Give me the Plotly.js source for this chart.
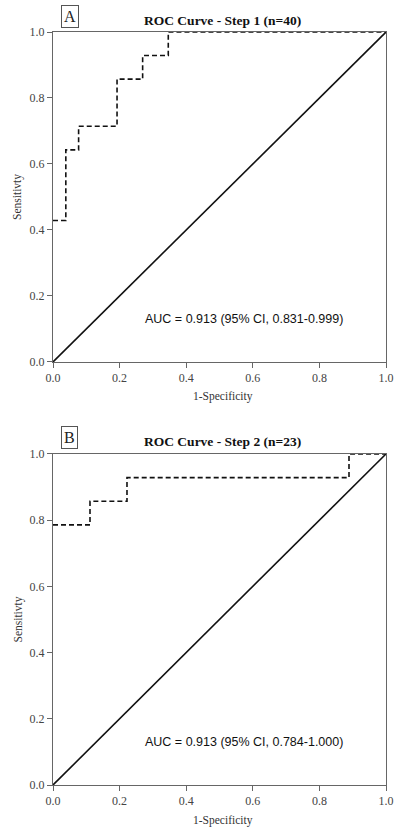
<!DOCTYPE html>
<html>
<head>
<meta charset="utf-8">
<script src="https://cdn.plot.ly/plotly-3.0.1.min.js"></script>
<style>html,body{margin:0;padding:0;background:#fff;}#chart{width:394px;height:833px;}</style>
</head>
<body>
<div id="chart"></div>
<script>
// Panel A: ROC Curve - Step 1 (n=40)
var rocA_fpr = [0, 0.0385, 0.0385, 0.0769, 0.0769, 0.1923, 0.1923, 0.2692, 0.2692, 0.3462, 0.3462, 1.0];
var rocA_tpr = [0.4286, 0.4286, 0.6429, 0.6429, 0.7143, 0.7143, 0.8571, 0.8571, 0.9286, 0.9286, 1.0, 1.0];
// Panel B: ROC Curve - Step 2 (n=23)
var rocB_fpr = [0, 0.1111, 0.1111, 0.2222, 0.2222, 0.8889, 0.8889, 1.0];
var rocB_tpr = [0.7857, 0.7857, 0.8571, 0.8571, 0.9286, 0.9286, 1.0, 1.0];
// Reference diagonal
var diag = [0, 1];
var tickVals = [0, 0.2, 0.4, 0.6, 0.8, 1.0];
var tickText = ["0.0", "0.2", "0.4", "0.6", "0.8", "1.0"];
var titles = ["ROC Curve - Step 1 (n=40)", "ROC Curve - Step 2 (n=23)"];
var panelLabels = ["A", "B"];
var aucTexts = ["AUC = 0.913 (95% CI, 0.831-0.999)", "AUC = 0.913 (95% CI, 0.784-1.000)"];
var xTitle = "1-Specificity";
var yTitle = "Sensitivty";

var dashStyle = {color: "#111", width: 1.6, dash: "5px,3px"};
var solidStyle = {color: "#111", width: 1.6};

var traces = [
  {x: rocA_fpr, y: rocA_tpr, xaxis: "x", yaxis: "y", mode: "lines", line: dashStyle, hoverinfo: "skip"},
  {x: diag, y: diag, xaxis: "x", yaxis: "y", mode: "lines", line: solidStyle, hoverinfo: "skip"},
  {x: rocB_fpr, y: rocB_tpr, xaxis: "x2", yaxis: "y2", mode: "lines", line: dashStyle, hoverinfo: "skip"},
  {x: diag, y: diag, xaxis: "x2", yaxis: "y2", mode: "lines", line: solidStyle, hoverinfo: "skip"}
];

var serif = "Liberation Serif, Times New Roman, serif";
function axisCommon(extra) {
  var a = {
    range: [0, 1], tickvals: tickVals, ticktext: tickText,
    ticks: "outside", ticklen: 5, tickwidth: 1, tickcolor: "#666",
    showline: true, linecolor: "#666", linewidth: 1, mirror: true,
    showgrid: false, zeroline: false,
    tickfont: {family: serif, size: 12, color: "#444"},
    fixedrange: true
  };
  for (var k in extra) a[k] = extra[k];
  return a;
}

var domA = [0.5618, 1.0];
var domB = [0.0, 0.4396];

var layout = {
  width: 394, height: 833,
  margin: {l: 53, r: 8, t: 32, b: 48},
  paper_bgcolor: "#fff", plot_bgcolor: "#fff",
  showlegend: false,
  xaxis: axisCommon({anchor: "y", domain: [0, 1]}),
  yaxis: axisCommon({anchor: "x", domain: domA}),
  xaxis2: axisCommon({anchor: "y2", domain: [0, 1]}),
  yaxis2: axisCommon({anchor: "x2", domain: domB}),
  annotations: [],
  shapes: []
};

var yrefs = ["y", "y2"];
var xrefs = ["x", "x2"];
for (var i = 0; i < 2; i++) {
  var xd = xrefs[i] + " domain", yd = yrefs[i] + " domain";
  layout.annotations.push({
    text: "<b>" + titles[i] + "</b>", xref: xd, yref: yd, x: 0.51, y: 1, yshift: 12,
    xanchor: "center", yanchor: "middle", showarrow: false,
    font: {family: serif, size: 13.5, color: "#111"}
  });
  layout.annotations.push({
    text: panelLabels[i], xref: xd, yref: yd, x: 0.0, y: 1, xshift: 8, yshift: 16,
    xanchor: "left", yanchor: "middle", showarrow: false,
    font: {family: serif, size: 16, color: "#222"},
    bordercolor: "#555", borderwidth: 1, borderpad: 2
  });
  layout.annotations.push({
    text: aucTexts[i], xref: xrefs[i], yref: yrefs[i], x: 0.574, y: 0.13,
    xanchor: "center", yanchor: "middle", showarrow: false,
    font: {family: "Liberation Sans, Arial, sans-serif", size: 12.5, color: "#111"}
  });
  layout.annotations.push({
    text: xTitle, xref: xd, yref: yd, x: 0.51, y: 0, yshift: -35,
    xanchor: "center", yanchor: "middle", showarrow: false,
    font: {family: serif, size: 11.5, color: "#333"}
  });
  layout.annotations.push({
    text: yTitle, xref: xd, yref: yd, x: 0, y: 0.5, xshift: -35,
    xanchor: "center", yanchor: "middle", showarrow: false, textangle: -90,
    font: {family: serif, size: 11.5, color: "#333"}
  });
}

Plotly.newPlot("chart", traces, layout, {displayModeBar: false, staticPlot: true});
</script>
</body>
</html>
